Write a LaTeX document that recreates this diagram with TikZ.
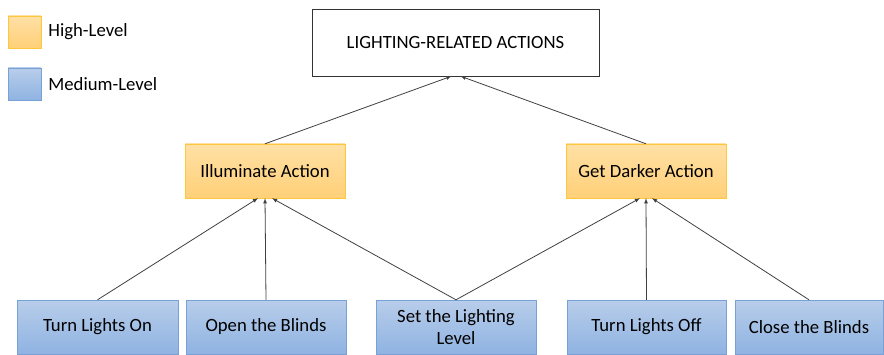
\documentclass[tikz,border=0pt]{standalone}
\usepackage{fontspec}
\setmainfont{Carlito}
\usepackage[svgnames]{xcolor}
\usepackage{tikz}
\usetikzlibrary{positioning}
\definecolor{hochrand}{RGB}{255,200,60}
\definecolor{hochoben}{RGB}{255,224,165}
\definecolor{hochunten}{RGB}{255,208,120}
\definecolor{mittelrand}{RGB}{120,162,215}
\definecolor{mitteloben}{RGB}{184,205,234}
\definecolor{mittelunten}{RGB}{143,179,226}

\begin{document}
\begin{tikzpicture}[x=1pt,y=1pt,
  kasten/.style={rectangle,draw,inner sep=0pt,minimum height=54pt,minimum width=160pt,
    align=center,font=\fontsize{18.7}{22}\selectfont},
  hoch/.style={kasten,draw=hochrand,top color=hochoben,bottom color=hochunten},
  mittel/.style={kasten,draw=mittelrand,top color=mitteloben,bottom color=mittelunten},
  legende/.style={inner sep=0pt,font=\fontsize{18.7}{22}\selectfont},
  pfeil/.style={draw=black!75,line width=0.8pt,-latex}]
  \useasboundingbox (0,0) rectangle (884,354);
  % legend
  \node[hoch,minimum width=33pt,minimum height=32pt] (leghoch) at (24.5,322) {};
  \node[legende,right=7pt of leghoch] (texthoch) {High-Level};
  \node[mittel,minimum width=33pt,minimum height=32pt] (legmittel) at (24.5,270) {};
  \node[legende,right=7pt of legmittel] (textmittel) {Medium-Level};
  % top
  \node[kasten,draw=black!80,fill=white,minimum width=287pt,minimum height=67pt]
    (licht) at (455.5,311.5) {LIGHTING-RELATED ACTIONS};
  % high level
  \node[hoch] (hell) at (265,183) {Illuminate Action};
  \node[hoch] (dunkel) at (646,183) {Get Darker Action};
  % medium level
  \node[mittel,minimum width=161pt] (an) at (97.5,27) {Turn Lights On};
  \node[mittel] (auf) at (266,27) {Open the Blinds};
  \node[mittel] (stufe) at (456,27) {Set the Lighting\\Level};
  \node[mittel,minimum width=159pt] (aus) at (646.5,27) {Turn Lights Off};
  \node[mittel,minimum width=148pt] (zu) at (809,27) {Close the Blinds};
  \path[every edge/.style=pfeil]
    (hell.north) edge ([xshift=-4pt]licht.south)
    (dunkel.north) edge ([xshift=5pt]licht.south)
    (an.north) edge ([xshift=-7pt]hell.south)
    (auf.north) edge (hell.south)
    (stufe.north) edge ([xshift=7pt]hell.south)
    edge ([xshift=-6pt]dunkel.south)
    (aus.north) edge (dunkel.south)
    (zu.north) edge ([xshift=6pt]dunkel.south);
\end{tikzpicture}
\end{document}
